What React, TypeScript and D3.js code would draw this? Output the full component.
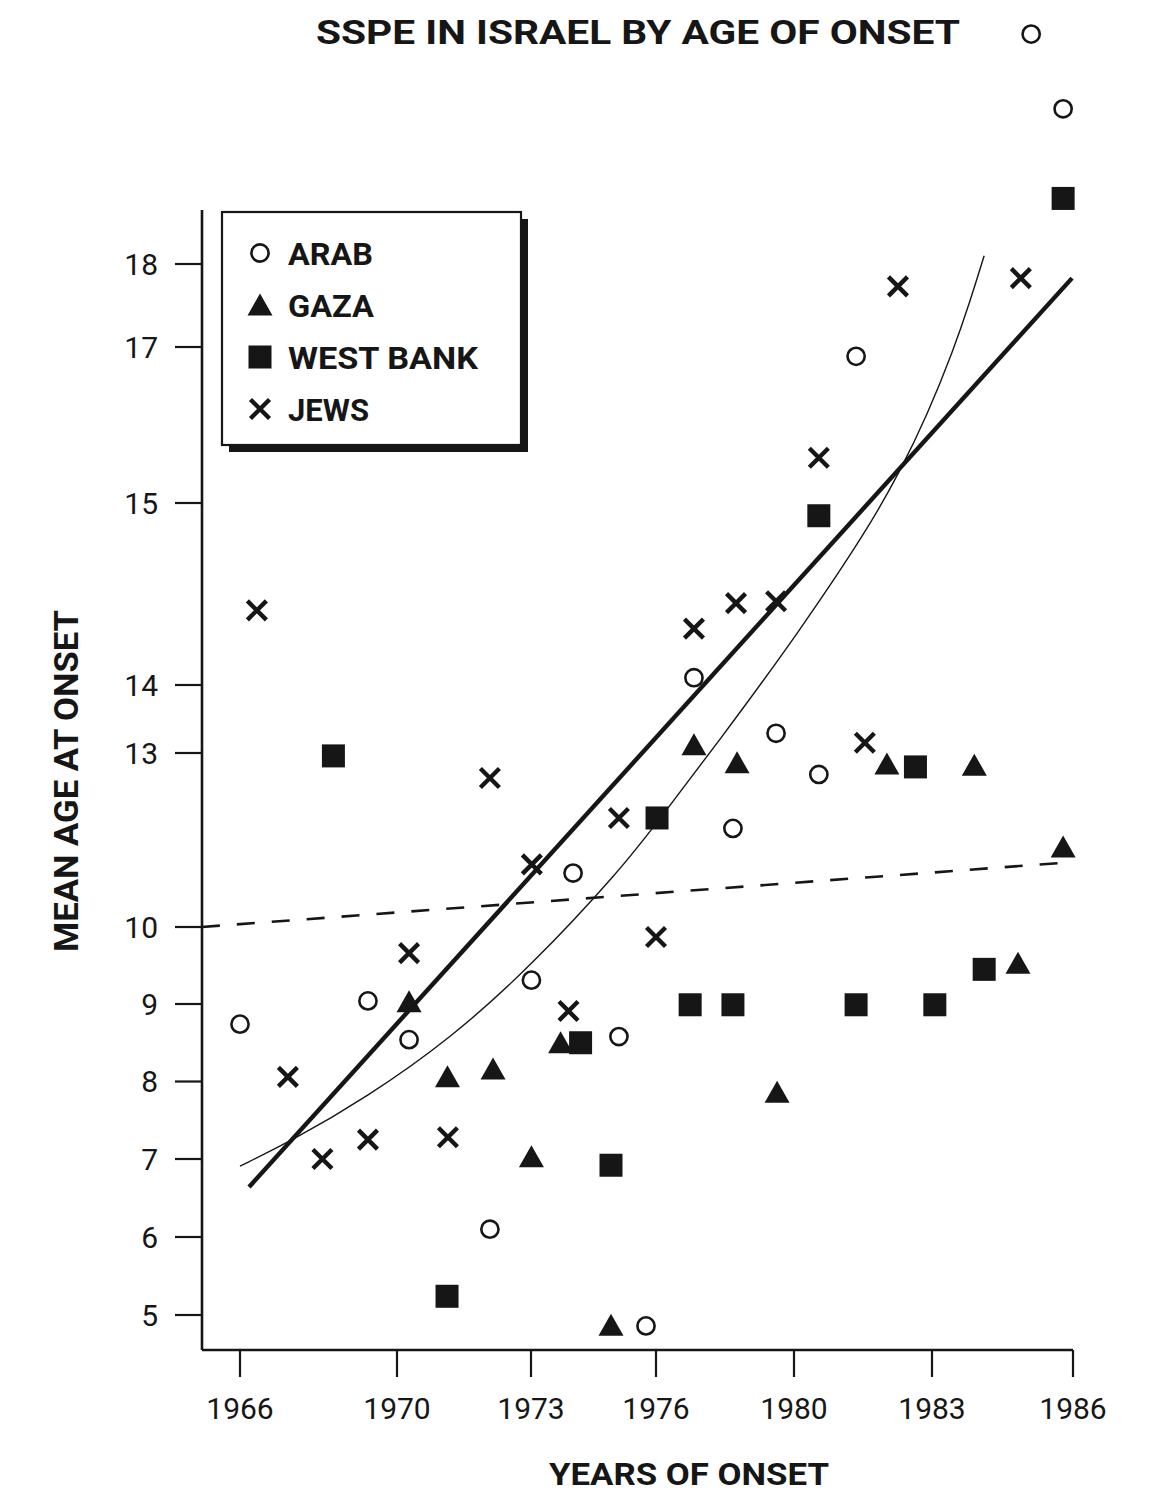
import React from "react";
import * as d3 from "d3";

// ---------- data ----------
const titleText = "SSPE IN ISRAEL BY AGE OF ONSET";
const xTitle = "YEARS OF ONSET";
const yTitle = "MEAN AGE AT ONSET";

const xTickValues = [1966, 1970, 1973, 1976, 1980, 1983, 1986];
const yTickValues = [5, 6, 7, 8, 9, 10, 13, 14, 15, 17, 18];

const arabYears = [1966.0, 1969.26, 1970.27, 1972.08, 1973.01, 1974.01, 1975.11, 1975.76, 1977.1, 1978.23, 1979.48, 1980.54, 1981.35, 1985.11, 1985.79];
const arabAges = [8.74, 9.04, 8.54, 6.1, 9.31, 10.93, 8.58, 4.86, 14.04, 11.7, 13.29, 12.63, 16.88, 20.77, 19.87];

const gazaYears = [1970.27, 1971.13, 1972.15, 1973.01, 1973.71, 1974.92, 1977.1, 1978.35, 1979.51, 1982.02, 1983.9, 1984.83, 1985.79];
const gazaAges = [9.03, 8.06, 8.16, 7.03, 8.5, 4.87, 13.12, 12.83, 7.86, 12.81, 12.79, 9.53, 11.38];

const westBankYears = [1968.38, 1971.12, 1974.19, 1974.92, 1976.03, 1976.99, 1978.23, 1980.54, 1981.35, 1982.64, 1983.06, 1984.11, 1985.79];
const westBankAges = [12.95, 5.24, 8.5, 6.92, 11.88, 8.99, 8.99, 14.93, 8.99, 12.76, 8.99, 9.45, 18.79];

const jewsYears = [1966.43, 1967.22, 1968.1, 1969.26, 1970.27, 1971.14, 1972.08, 1973.02, 1973.9, 1975.11, 1976.0, 1977.1, 1978.32, 1979.48, 1980.54, 1981.54, 1982.26, 1984.89];
const jewsAges = [14.41, 8.06, 7.0, 7.25, 9.66, 7.28, 12.57, 11.08, 8.91, 11.88, 9.87, 14.31, 14.45, 14.46, 15.58, 13.15, 17.73, 17.83];

const fitLineYears = [1966.23, 1985.98];
const fitLineAges = [6.64, 17.83];

const flatLineYears = [1965.03, 1986.0];
const flatLineAges = [10.0, 11.12];

const curveYears = [1966.0, 1967.27, 1969.24, 1971.19, 1973.0, 1975.14, 1976.03, 1978.23, 1980.13, 1981.59, 1982.3, 1982.89, 1983.45, 1983.81, 1984.11];
const curveAges = [6.91, 7.22, 7.8, 8.55, 9.49, 10.98, 11.8, 13.45, 14.3, 14.85, 15.4, 16.12, 16.95, 17.55, 18.1];

const legendLabels = ["ARAB", "GAZA", "WEST BANK", "JEWS"];

// ---------- layout ----------
const W = 1151;
const H = 1495;
const INK = "#161616";
const FONT = "Roboto, 'DejaVu Sans', Arial, sans-serif";
const axisLeftX = 202;
const axisTopY = 210;
const axisBottomY = 1350;
const xTickPixels = [240, 397, 531, 656, 794, 932, 1073];
const yTickPixels = [1315, 1237, 1159, 1081.5, 1004, 927, 753, 685, 503, 347, 264];

const xScale = d3.scaleLinear().domain(xTickValues).range(xTickPixels);
const yScale = d3.scaleLinear().domain(yTickValues).range(yTickPixels);

type Shape = "circle" | "triangle" | "square" | "cross";

function Marker({ shape, cx, cy }: { shape: Shape; cx: number; cy: number }) {
  if (shape === "circle") {
    return <circle cx={cx} cy={cy} r={8.6} fill="#fff" stroke={INK} strokeWidth={2.6} />;
  }
  if (shape === "square") {
    return <rect x={cx - 11.5} y={cy - 11.5} width={23} height={23} fill={INK} />;
  }
  if (shape === "triangle") {
    const p = `M${cx},${cy - 11.5}L${cx + 12.5},${cy + 10.5}L${cx - 12.5},${cy + 10.5}Z`;
    return <path d={p} fill={INK} />;
  }
  const s = 9.5;
  return (
    <path
      d={`M${cx - s},${cy - s}L${cx + s},${cy + s}M${cx - s},${cy + s}L${cx + s},${cy - s}`}
      stroke={INK}
      strokeWidth={4.4}
      fill="none"
    />
  );
}

const series: { shape: Shape; years: number[]; ages: number[] }[] = [
  { shape: "circle", years: arabYears, ages: arabAges },
  { shape: "triangle", years: gazaYears, ages: gazaAges },
  { shape: "square", years: westBankYears, ages: westBankAges },
  { shape: "cross", years: jewsYears, ages: jewsAges },
];
const legendShapes: Shape[] = ["circle", "triangle", "square", "cross"];
const legendTextLengths = [85, 86, 190, 81];

export default function App() {
  const line = d3
    .line<[number, number]>()
    .x((d) => xScale(d[0]))
    .y((d) => yScale(d[1]));
  const curve = d3
    .line<[number, number]>()
    .x((d) => xScale(d[0]))
    .y((d) => yScale(d[1]))
    .curve(d3.curveBasis);

  const fitPts = fitLineYears.map((y, i) => [y, fitLineAges[i]] as [number, number]);
  const flatPts = flatLineYears.map((y, i) => [y, flatLineAges[i]] as [number, number]);
  const curvePts = curveYears.map((y, i) => [y, curveAges[i]] as [number, number]);

  const lgX = 222, lgY = 212, lgW = 299, lgH = 233, lgShadow = 7;
  const rowY0 = 253, rowStep = 52;

  return (
    <svg
      width={W}
      height={H}
      viewBox={`0 0 ${W} ${H}`}
      style={{ position: "absolute", left: 0, top: 0, background: "#fff" }}
      fontFamily={FONT}
    >
      <rect x={0} y={0} width={W} height={H} fill="#fff" />

      {/* title */}
      <text
        x={638}
        y={44}
        textAnchor="middle"
        fontSize={34}
        fontWeight={700}
        fill={INK}
        textLength={644}
        lengthAdjust="spacingAndGlyphs"
      >
        {titleText}
      </text>

      {/* axes */}
      <line x1={axisLeftX} y1={axisTopY} x2={axisLeftX} y2={axisBottomY} stroke={INK} strokeWidth={2.6} />
      <line x1={axisLeftX} y1={axisBottomY} x2={xScale(1986)} y2={axisBottomY} stroke={INK} strokeWidth={2.6} />

      {yTickValues.map((v) => (
        <g key={`yt${v}`}>
          <line x1={axisLeftX - 27} x2={axisLeftX} y1={yScale(v)} y2={yScale(v)} stroke={INK} strokeWidth={2.2} />
          <text
            x={158}
            y={yScale(v)}
            dy="0.36em"
            textAnchor="end"
            fontSize={30}
            fill={INK}
          >
            {v}
          </text>
        </g>
      ))}

      {xTickValues.map((v) => (
        <g key={`xt${v}`}>
          <line x1={xScale(v)} x2={xScale(v)} y1={axisBottomY} y2={axisBottomY + 27} stroke={INK} strokeWidth={2.2} />
          <text x={xScale(v)} y={1419} textAnchor="middle" fontSize={30} fill={INK}>
            {v}
          </text>
        </g>
      ))}

      <text
        x={689}
        y={1485}
        textAnchor="middle"
        fontSize={32}
        fontWeight={700}
        fill={INK}
        textLength={280}
        lengthAdjust="spacingAndGlyphs"
      >
        {xTitle}
      </text>
      <text
        transform="translate(78,781) rotate(-90)"
        textAnchor="middle"
        fontSize={34}
        fontWeight={700}
        fill={INK}
        textLength={342}
        lengthAdjust="spacingAndGlyphs"
      >
        {yTitle}
      </text>

      {/* fitted lines */}
      <path d={line(flatPts) || ""} fill="none" stroke={INK} strokeWidth={2.6} strokeDasharray="18 17" />
      <path d={curve(curvePts) || ""} fill="none" stroke={INK} strokeWidth={1.4} />
      <path d={line(fitPts) || ""} fill="none" stroke={INK} strokeWidth={4.4} />

      {/* points */}
      {series.map((s) =>
        s.years.map((yr, i) => (
          <Marker key={`${s.shape}${i}`} shape={s.shape} cx={xScale(yr)} cy={yScale(s.ages[i])} />
        ))
      )}

      {/* legend */}
      <rect x={lgX + lgShadow} y={lgY + lgShadow} width={lgW} height={lgH} fill={INK} />
      <rect x={lgX} y={lgY} width={lgW} height={lgH} fill="#fff" stroke={INK} strokeWidth={2.2} />
      {legendLabels.map((lab, i) => (
        <g key={lab}>
          <Marker shape={legendShapes[i]} cx={260} cy={rowY0 + i * rowStep} />
          <text
            x={288}
            y={rowY0 + i * rowStep}
            dy="0.36em"
            fontSize={32}
            fontWeight={700}
            fill={INK}
            textLength={legendTextLengths[i]}
            lengthAdjust="spacingAndGlyphs"
          >
            {lab}
          </text>
        </g>
      ))}
    </svg>
  );
}
